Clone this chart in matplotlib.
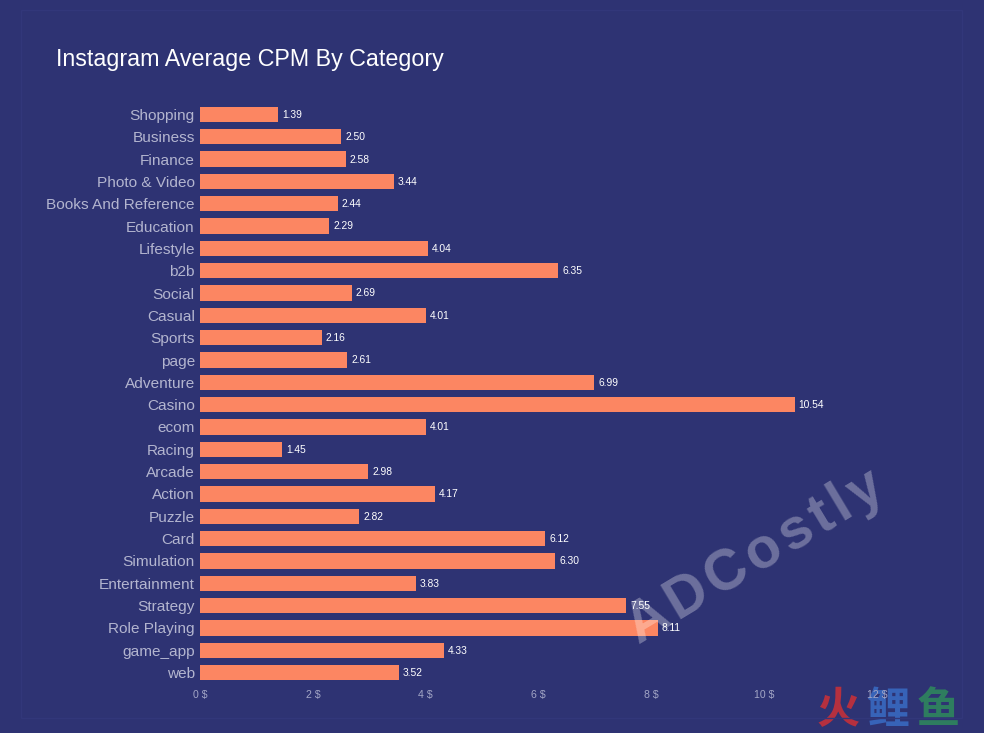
import matplotlib
matplotlib.use("Agg")
import matplotlib.pyplot as plt
from matplotlib.patches import Rectangle

plt.rcParams["font.family"] = ["Liberation Sans", "DejaVu Sans"]

categories = ["Shopping", "Business", "Finance", "Photo & Video", "Books And Reference",
              "Education", "Lifestyle", "b2b", "Social", "Casual", "Sports", "page",
              "Adventure", "Casino", "ecom", "Racing", "Arcade", "Action", "Puzzle",
              "Card", "Simulation", "Entertainment", "Strategy", "Role Playing",
              "game_app", "web"]
cpm = [1.39, 2.50, 2.58, 3.44, 2.44, 2.29, 4.04, 6.35, 2.69, 4.01, 2.16, 2.61, 6.99,
       10.54, 4.01, 1.45, 2.98, 4.17, 2.82, 6.12, 6.30, 3.83, 7.55, 8.11, 4.33, 3.52]
xticks = [0, 2, 4, 6, 8, 10, 12]

BG = "#2e3373"; BAR = "#fc8662"; LABEL = "#b3b5cf"; TICK = "#a3a6c6"
W, H = 984, 733

fig = plt.figure(figsize=(W / 100, H / 100), dpi=100, facecolor=BG)
ax = fig.add_axes([200 / W, 1 - 683.7 / H, 677 / W, 580.4 / H])
ax.patch.set_visible(False)

# faint inner frame
fig.add_artist(Rectangle((21 / W, 1 - 718 / H), 941 / W, 708 / H, transform=fig.transFigure,
                         fill=False, ec="#32377a", lw=1))

y = range(len(categories))
ax.barh(y, cpm, height=0.69, color=BAR)
for i, v in enumerate(cpm):
    ax.annotate(f"{v:.2f}", (v, i), textcoords="offset points", xytext=(2.9, -0.3),
                va="center", ha="left", fontsize=7.4, color="white")

ax.set_xlim(0, 12)
ax.set_ylim(len(categories) - 0.5, -0.5)
ax.set_yticks(list(y))
ax.set_yticklabels(categories, fontsize=11.1, color=LABEL, va="center_baseline")
ax.set_xticks(xticks)
ax.set_xticklabels([f"{t} $" for t in xticks], fontsize=7.6, color=TICK)
ax.tick_params(length=0)
ax.tick_params(axis="y", pad=3.7)
ax.tick_params(axis="x", pad=4.6)
for sp in ax.spines.values():
    sp.set_visible(False)

fig.text(56 / W, 1 - 59.5 / H, "Instagram Average CPM By Category", fontsize=16.75,
         color="white", va="center", ha="left")

# watermark
fig.text(755 / W, 1 - 557 / H, "\u200a".join("ADCostly"), fontsize=41, fontweight="bold",
         color="white", alpha=0.3, rotation=31, rotation_mode="anchor",
         ha="center", va="center")

# logo sits under the axes so the 12 $ tick stays on top
for ch, px, col in [("火", 838, "#b5303f"), ("鲤", 888, "#3763b8"), ("鱼", 938, "#2e7d5f")]:
    fig.text(px / W, 1 - 710 / H, ch, fontsize=31, fontweight="bold", color=col, zorder=-1,
             family=["Noto Sans CJK SC", "DejaVu Sans"], ha="center", va="center")

fig.savefig("out.png", facecolor=BG)
